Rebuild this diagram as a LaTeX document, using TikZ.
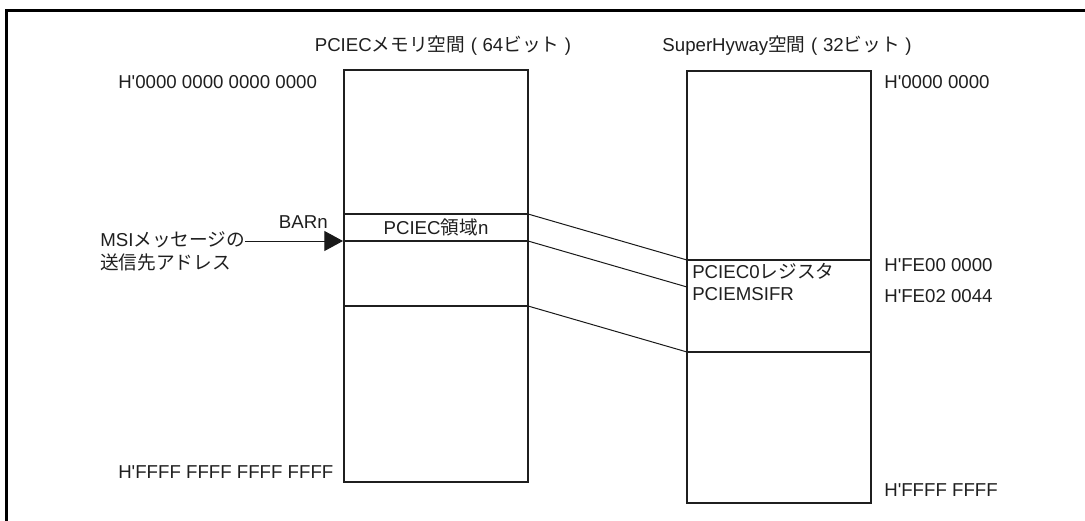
\documentclass[tikz,border=0pt]{standalone}
\usepackage{fontspec}
\setmainfont{Liberation Sans}[Ligatures=TeXOff]
\newfontfamily\jp{Noto Sans CJK JP}
\usetikzlibrary{arrows.meta}
\begin{document}
\begin{tikzpicture}[x=0.75pt,y=-0.75pt,
  font=\fontsize{14pt}{16pt}\selectfont,
  box/.style={draw=black!88, line width=1.6pt, inner sep=0pt},
  sepline/.style={draw=black!88, line width=1.6pt},
  conn/.style={draw=black!90, line width=0.75pt},
  lbl/.style={inner sep=0pt, text=black!88},
  frameline/.style={draw=black, line width=2.25pt}]
\useasboundingbox (0,0) rectangle (1085,521);
% outer frame (only top and left visible)
\coordinate (fbl) at (6,523);
\coordinate (ftl) at (6,10);
\coordinate (ftr) at (1087,10);
\draw[frameline] (fbl) -- (ftl) -- (ftr);
% boxes
\node[box, minimum width=138pt, minimum height=309pt] (lbox) at (436,276) {};
\node[box, minimum width=138pt, minimum height=324pt] (rbox) at (779,287) {};
% separator points
\coordinate (la) at (344,214); \coordinate (lA) at (528,214);
\coordinate (lb) at (344,241); \coordinate (lB) at (528,241);
\coordinate (lc) at (344,306); \coordinate (lC) at (528,306);
\coordinate (ra) at (687,260); \coordinate (rA) at (871,260);
\coordinate (rb) at (687,287);
\coordinate (rc) at (687,352); \coordinate (rC) at (871,352);
\draw[sepline] (la) -- (lA);
\draw[sepline] (lb) -- (lB);
\draw[sepline] (lc) -- (lC);
\draw[sepline] (ra) -- (rA);
\draw[sepline] (rc) -- (rC);
% connectors
\draw[conn] (lA) -- (ra);
\draw[conn] (lB) -- (rb);
\draw[conn] (lC) -- (rc);
% titles
\node[lbl, anchor=base] (t1) at (443,51.5) {PCIEC{\jp メモリ空間}\hspace{0.3em}(\hspace{0.3em}64{\jp ビット}\hspace{0.3em})};
\node[lbl, anchor=base] (t2) at (787,51.5) {SuperHyway{\jp 空間}\hspace{0.3em}(\hspace{0.3em}32{\jp ビット}\hspace{0.3em})};
% left addresses
\node[lbl, anchor=base west] (a0) at (118,88) {H'0000 0000 0000 0000};
\node[lbl, anchor=base west] (a1) at (118,478) {H'FFFF FFFF FFFF FFFF};
% right addresses
\node[lbl, anchor=base west] (b0) at (884,88) {H'0000 0000};
\node[lbl, anchor=base west] (b1) at (884,271) {H'FE00 0000};
\node[lbl, anchor=base west] (b2) at (884,302) {H'FE02 0044};
\node[lbl, anchor=base west] (b3) at (884,496) {H'FFFF FFFF};
% inside texts
\node[lbl, anchor=base] (reg) at (436,234.5) {PCIEC{\jp 領域}n};
\node[lbl, anchor=base west] (c0) at (692,278) {PCIEC0{\jp レジスタ}};
\node[lbl, anchor=base west] (c1) at (692,300) {PCIEMSIFR};
% BAR / MSI
\node[lbl, anchor=base east] (bar) at (328,228.5) {BARn};
\node[lbl, anchor=base west] (msi) at (100,246) {MSI{\jp メッセージの}};
\node[lbl, anchor=base west] (msi2) at (100,269) {\jp 送信先アドレス};
\coordinate (bartip) at (343,241);
\draw[conn, -{Triangle[length=14pt,width=15pt]}] (msi.east |- bartip) -- (bartip);
\end{tikzpicture}
\end{document}
